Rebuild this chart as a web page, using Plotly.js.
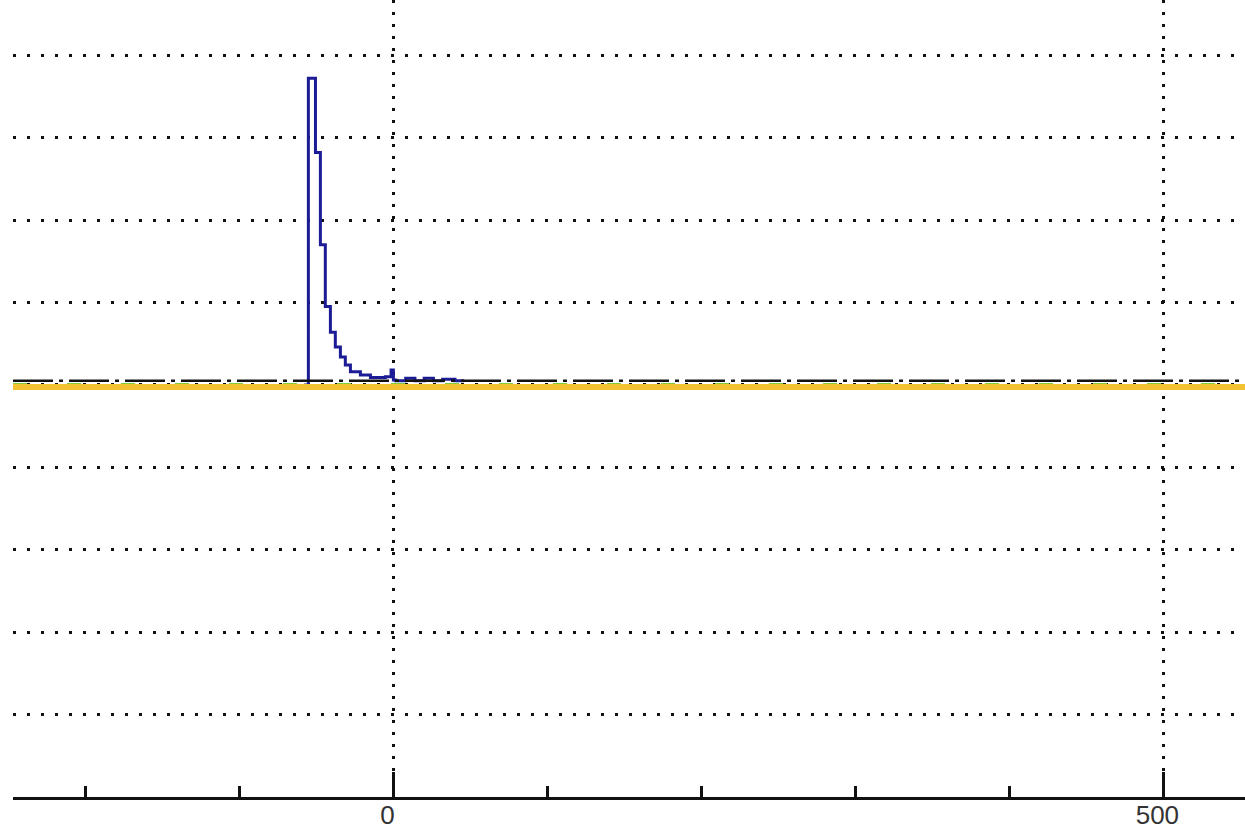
<!DOCTYPE html>
<html>
<head>
<meta charset="utf-8">
<script src="https://cdn.plot.ly/plotly-3.0.1.min.js"></script>
<style>html,body{margin:0;padding:0;background:#fff;}#chart{width:1245px;height:830px;}</style>
</head>
<body>
<div id="chart"></div>
<script>
// Histogram (blue step series), bin left edges and heights
const histX = [-58, -55.2, -50.6, -47.4, -44.2, -40.9, -37.7, -34.4, -31.2, -27.9, -21.4, -14.9, -5.2, -1.5, 0, 1.5, 8, 14, 20, 26, 32, 40, 46];
const histY = [0, 3.72, 2.82, 1.70, 0.95, 0.64, 0.46, 0.34, 0.24, 0.16, 0.12, 0.09, 0.10, 0.18, 0.06, 0.05, 0.08, 0.05, 0.08, 0.05, 0.07, 0.05, 0.05];
// Flat reference series along baseline
const lineX = [-247, 553];
const yellowY = [-0.025, -0.025];
const blackY = [0.05, 0.05];
const greenY = [0.01, 0.01];
const redY = [0.0, 0.0];
// Axis ticks
const xTicks = [-200, -100, 0, 100, 200, 300, 400, 500];
const xTickText = ['', '', '0', '', '', '', '', '500'];
const xGridTicks = [0, 500];
const yGridTicks = [-4, -3, -2, -1, 0, 1, 2, 3, 4];

const traces = [
  {x: lineX, y: yellowY, mode: 'lines', line: {color: '#f2c230', width: 6}, xaxis: 'x2', hoverinfo: 'skip'},
  {x: lineX, y: greenY, mode: 'lines', line: {color: '#7ccd3a', width: 2, dash: '14px,40px'}, hoverinfo: 'skip'},
  {x: lineX, y: redY, mode: 'lines', line: {color: '#d9534a', width: 1.5, dash: '6px,70px'}, hoverinfo: 'skip'},
  {x: histX, y: histY, mode: 'lines', line: {color: '#1c1c96', width: 3, shape: 'hv'}, hoverinfo: 'skip'},
  {x: lineX, y: blackY, mode: 'lines', line: {color: '#111', width: 2.5, dash: '40px,6px,4px,6px'}, hoverinfo: 'skip'}
];

const layout = {
  width: 1245, height: 830,
  margin: {l: 13, r: 0, t: 0, b: 33},
  paper_bgcolor: '#fff', plot_bgcolor: '#fff',
  showlegend: false,
  xaxis: {
    range: [-247, 553], tickvals: xTicks, ticktext: xTickText,
    ticks: 'inside', ticklen: 11, tickwidth: 2.5, tickcolor: '#111',
    showline: true, linecolor: '#111', linewidth: 2.5,
    showgrid: false, zeroline: false,
    ticklabelshift: -6, ticklabelstandoff: -7,
    tickfont: {family: 'Liberation Sans, Arial, sans-serif', size: 26, color: '#333'}
  },
  xaxis2: {
    range: [-247, 553], overlaying: 'x', side: 'bottom', anchor: 'y',
    tickvals: xGridTicks, ticks: 'inside', ticklen: 25, tickwidth: 2.5, tickcolor: '#111',
    showticklabels: false, showgrid: true, gridcolor: '#111', gridwidth: 3, griddash: '3px,9px',
    zeroline: false, showline: false
  },
  yaxis: {
    range: [-5.0, 4.67], tickvals: yGridTicks, showticklabels: false, ticks: '',
    showgrid: true, gridcolor: '#111', gridwidth: 3, griddash: '3px,11px',
    zeroline: false, showline: false
  }
};

Plotly.newPlot('chart', traces, layout, {staticPlot: true, displayModeBar: false});
</script>
</body>
</html>
